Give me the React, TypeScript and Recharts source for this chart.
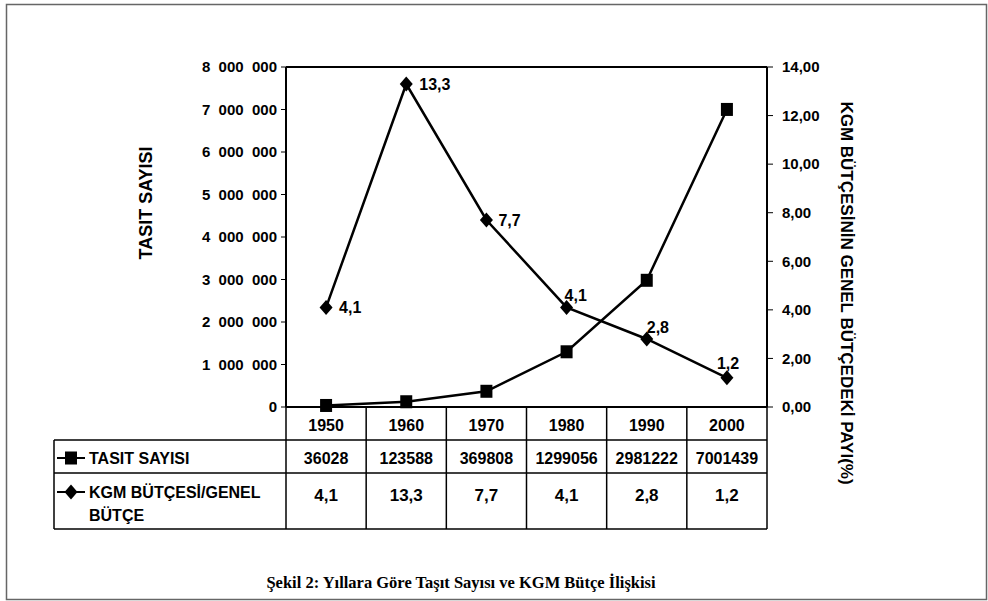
import {
  ComposedChart, Line, XAxis, YAxis, ReferenceLine, LabelList,
} from 'recharts';

const YEARS = ['1950', '1960', '1970', '1980', '1990', '2000'];
const TASIT_SAYISI = [36028, 123588, 369808, 1299056, 2981222, 7001439];
const KGM_PAYI = [4.1, 13.3, 7.7, 4.1, 2.8, 1.2];
const LEFT_TICKS = [0, 1000000, 2000000, 3000000, 4000000, 5000000, 6000000, 7000000, 8000000];
const RIGHT_TICKS = [0, 2, 4, 6, 8, 10, 12, 14];

const TITLE_LEFT = 'TASIT SAYISI';
const TITLE_RIGHT = 'KGM BÜTÇESİNİN GENEL BÜTÇEDEKİ PAYI(%)';
const ROW_TASIT = 'TASIT SAYISI';
const ROW_KGM = ['KGM BÜTÇESİ/GENEL', 'BÜTÇE'];
const CAPTION = 'Şekil 2: Yıllara Göre Taşıt Sayısı ve KGM Bütçe İlişkisi';

// label nudges (dx, dy) per point, as Excel placed them
const LABEL_OFFSETS: [number, number][] = [
  [13, 0], [13, 0], [12, 0], [-2, -12], [0, -12], [-10, -15],
];

const W = 988;
const H = 601;
const PLOT_L = 286;
const PLOT_R = 767;
const PLOT_T = 67;
const PLOT_B = 407;
const COL_W = (PLOT_R - PLOT_L) / YEARS.length;
const SANS = '"Liberation Sans", Arial, sans-serif';
const SERIF = '"Liberation Serif", "Times New Roman", serif';

const data = YEARS.map((y, i) => ({ year: y, tasit: TASIT_SAYISI[i], kgm: KGM_PAYI[i] }));

const fmtLeft = (v: number) =>
  String(v).replace(/\B(?=(\d{3})+(?!\d))/g, '\u2007');
const fmtRight = (v: number) => v.toFixed(2).replace('.', ',');
const fmtPct = (v: number) => v.toFixed(1).replace('.', ',');

const Square = ({ cx, cy }: any) => (
  <rect x={cx - 6} y={cy - 6.5} width={12} height={13} fill="#000" />
);
const Diamond = ({ cx, cy }: any) => (
  <polygon points={`${cx},${cy - 7.5} ${cx + 6.5},${cy} ${cx},${cy + 7.5} ${cx - 6.5},${cy}`} fill="#000" />
);

const renderLabel = (props: any) => {
  const { x, y, value, index } = props;
  const [dx, dy] = LABEL_OFFSETS[index] || [10, 0];
  return (
    <text x={x + dx} y={y + dy + 6} fontFamily={SANS} fontSize={16} fontWeight="bold" fill="#000">
      {fmtPct(value)}
    </text>
  );
};

function DataTable() {
  const rows = [PLOT_B, 440, 473, 529];
  const cell = (size: number) => ({
    fontFamily: SANS, fontSize: size, fontWeight: 'bold' as const, fill: '#000', textAnchor: 'middle' as const,
  });
  return (
    <g>
      {rows.slice(1).map((ry) => (
        <line key={ry} x1={54} x2={PLOT_R} y1={ry} y2={ry} stroke="#000" strokeWidth={1.5} />
      ))}
      <line x1={54} x2={54} y1={440} y2={529} stroke="#000" strokeWidth={1.5} />
      {YEARS.map((_, i) => (
        <line key={i} x1={PLOT_L + i * COL_W} x2={PLOT_L + i * COL_W} y1={PLOT_B} y2={529} stroke="#000" strokeWidth={1.5} />
      ))}
      <line x1={PLOT_R} x2={PLOT_R} y1={PLOT_B} y2={529} stroke="#000" strokeWidth={1.5} />
      {YEARS.map((yr, i) => (
        <text key={yr} x={PLOT_L + (i + 0.5) * COL_W} y={431} {...cell(16)}>{yr}</text>
      ))}
      {TASIT_SAYISI.map((v, i) => (
        <text key={i} x={PLOT_L + (i + 0.5) * COL_W} y={464} {...cell(16)}>{v}</text>
      ))}
      {KGM_PAYI.map((v, i) => (
        <text key={i} x={PLOT_L + (i + 0.5) * COL_W} y={501} {...cell(17)}>{fmtPct(v)}</text>
      ))}
      {/* row keys */}
      <line x1={57} x2={85} y1={458} y2={458} stroke="#000" strokeWidth={2} />
      <Square cx={71} cy={458} />
      <text x={89} y={464} fontFamily={SANS} fontSize={16} fontWeight="bold">{ROW_TASIT}</text>
      <line x1={57} x2={85} y1={492} y2={492} stroke="#000" strokeWidth={2} />
      <Diamond cx={71} cy={492} />
      <text x={89} y={498} fontFamily={SANS} fontSize={16} fontWeight="bold">{ROW_KGM[0]}</text>
      <text x={89} y={521} fontFamily={SANS} fontSize={16} fontWeight="bold">{ROW_KGM[1]}</text>
    </g>
  );
}

export default function App() {
  const tick = { fontFamily: SANS, fontSize: 15, fontWeight: 'bold', fill: '#000' };
  return (
    <div style={{ position: 'absolute', left: 0, top: 0, width: W, height: H, background: '#fff' }}>
      <ComposedChart
        width={W}
        height={H}
        data={data}
        margin={{ top: PLOT_T, left: PLOT_L - 80, right: W - PLOT_R - 60, bottom: H - PLOT_B - 1 }}
      >
        <XAxis
          dataKey="year"
          tick={false}
          tickLine={false}
          height={1}
          padding={{ left: COL_W / 2, right: COL_W / 2 }}
          axisLine={{ stroke: '#000', strokeWidth: 2 }}
        />
        <YAxis
          yAxisId="left"
          width={80}
          domain={[0, 8000000]}
          ticks={LEFT_TICKS}
          tickFormatter={fmtLeft}
          tick={tick}
          tickSize={5}
          tickMargin={4}
          axisLine={{ stroke: '#000', strokeWidth: 2 }}
          tickLine={{ stroke: '#000' }}
        />
        <YAxis
          yAxisId="right"
          orientation="right"
          width={60}
          domain={[0, 14]}
          ticks={RIGHT_TICKS}
          tickFormatter={fmtRight}
          tick={tick}
          tickSize={6}
          tickMargin={9}
          axisLine={{ stroke: '#000', strokeWidth: 2 }}
          tickLine={{ stroke: '#000' }}
        />
        <ReferenceLine yAxisId="left" y={8000000} stroke="#000" strokeWidth={2} />
        <Line
          yAxisId="left"
          dataKey="tasit"
          type="linear"
          stroke="#000"
          strokeWidth={2.5}
          dot={(p: any) => <Square key={`s${p.index}`} {...p} />}
          activeDot={false}
          isAnimationActive={false}
        />
        <Line
          yAxisId="right"
          dataKey="kgm"
          type="linear"
          stroke="#000"
          strokeWidth={2.5}
          dot={(p: any) => <Diamond key={`d${p.index}`} {...p} />}
          activeDot={false}
          isAnimationActive={false}
        >
          <LabelList dataKey="kgm" content={renderLabel} />
        </Line>
      </ComposedChart>
      <svg width={W} height={H} style={{ position: 'absolute', left: 0, top: 0, pointerEvents: 'none' }}>
        <rect x={6.5} y={4.5} width={980} height={595} fill="none" stroke="#666" strokeWidth={1.5} />
        <text
          transform="translate(152, 203) rotate(-90)"
          textAnchor="middle"
          fontFamily={SANS}
          fontSize={18}
          fontWeight="bold"
        >
          {TITLE_LEFT}
        </text>
        <text
          transform="translate(841, 293) rotate(90)"
          textAnchor="middle"
          fontFamily={SANS}
          fontSize={17}
          fontWeight="bold"
        >
          {TITLE_RIGHT}
        </text>
        <DataTable />
        <text x={461} y={588} textAnchor="middle" fontFamily={SERIF} fontSize={16.5} fontWeight="bold">
          {CAPTION}
        </text>
      </svg>
    </div>
  );
}
